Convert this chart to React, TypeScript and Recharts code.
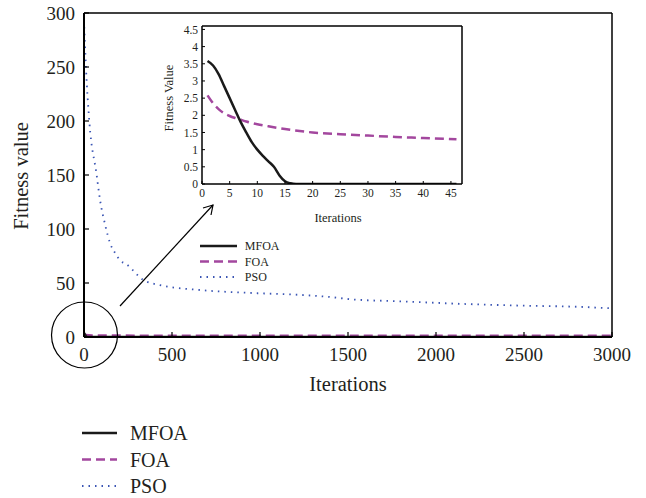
import { LineChart, Line, XAxis, YAxis } from "recharts";

const FONT = '"Liberation Serif", "DejaVu Serif", serif';
const TEXT = "#231f20";

const MAIN_X_TICKS = [0, 500, 1000, 1500, 2000, 2500, 3000];
const MAIN_Y_TICKS = [0, 50, 100, 150, 200, 250, 300];
const INSET_X_TICKS = [0, 5, 10, 15, 20, 25, 30, 35, 40, 45];
const INSET_Y_TICKS = [0, 0.5, 1, 1.5, 2, 2.5, 3, 3.5, 4, 4.5];

// full run (3000 iterations)
const PSO_ITER = [0, 11, 30, 72, 91, 120, 148, 176, 205, 244, 335, 432, 660, 960, 1227, 1400, 1511, 1800, 2176, 2500, 2800, 3000];
const PSO_FIT = [293, 250, 200, 150, 127, 104, 87, 78, 71, 67, 53, 48, 43.5, 40.7, 39, 37, 35, 33, 30.5, 29, 28, 26.5];
const MFOA_FULL_ITER = [0, 5, 10, 16, 3000];
const MFOA_FULL_FIT = [3.6, 2.5, 1, 0, 0];
const FOA_FULL_ITER = [0, 10, 46, 3000];
const FOA_FULL_FIT = [2.6, 1.75, 1.3, 1.1];

// zoomed view (first iterations)
const MFOA_ITER = [1, 2, 3, 4, 5, 6, 7, 8, 9, 10, 11, 12, 13, 14, 15, 16, 17, 20, 25, 30, 35, 40, 46];
const MFOA_FIT = [3.58, 3.45, 3.2, 2.85, 2.5, 2.15, 1.8, 1.5, 1.22, 1.0, 0.82, 0.66, 0.5, 0.25, 0.08, 0.02, 0, 0, 0, 0, 0, 0, 0];
const FOA_ITER = [1, 2, 3, 4, 5, 6, 7, 8, 10, 12, 15, 20, 25, 30, 35, 40, 46];
const FOA_FIT = [2.58, 2.35, 2.18, 2.06, 1.98, 1.92, 1.87, 1.82, 1.74, 1.68, 1.6, 1.5, 1.45, 1.41, 1.37, 1.34, 1.3];

const SERIES = ["MFOA", "FOA", "PSO"];
const COLORS = { MFOA: "#1a1a1a", FOA: "#a3479e", PSO: "#3a55b4" };

const zip = (xs: number[], ys: number[]) => xs.map((x, i) => ({ iter: x, fit: ys[i] }));

const psoData = zip(PSO_ITER, PSO_FIT);
const mfoaFull = zip(MFOA_FULL_ITER, MFOA_FULL_FIT);
const foaFull = zip(FOA_FULL_ITER, FOA_FULL_FIT);
const mfoaInset = zip(MFOA_ITER, MFOA_FIT);
const foaInset = zip(FOA_ITER, FOA_FIT);

const lineStyle = (name: string) => {
  if (name === "MFOA") return { stroke: COLORS.MFOA, strokeWidth: 2.5 };
  if (name === "FOA") return { stroke: COLORS.FOA, strokeWidth: 2.5, strokeDasharray: "9 5" };
  return { stroke: COLORS.PSO, strokeWidth: 1.8, strokeDasharray: "1.5 5" };
};

const LegendRows = ({ x, y, gap, len, size }: { x: number; y: number; gap: number; len: number; size: number }) => (
  <g>
    {SERIES.map((s, i) => (
      <g key={s}>
        <line x1={x} x2={x + len} y1={y + i * gap} y2={y + i * gap} {...lineStyle(s)} />
        <text x={x + len + size * 0.65} y={y + i * gap} dy="0.35em" fontSize={size} fontFamily={FONT} fill={TEXT}>
          {s}
        </text>
      </g>
    ))}
  </g>
);

export default function App() {
  const axisLine = { stroke: "#000", strokeWidth: 2 };
  const tickLine = { stroke: "#000", strokeWidth: 1.2 };
  const mainTick = { fontSize: 19, fill: TEXT, fontFamily: FONT };
  const insetTick = { fontSize: 11.5, fill: TEXT, fontFamily: FONT };
  const insetAxis = { stroke: "#000", strokeWidth: 1.5 };

  return (
    <div style={{ position: "absolute", left: 0, top: 0, width: 646, height: 498, background: "#fff" }}>
      <div style={{ position: "absolute", left: 0, top: 0 }}>
        <LineChart width={646} height={498} margin={{ top: 12, right: 33, bottom: 131, left: 24 }}>
          <XAxis xAxisId="b" type="number" dataKey="iter" domain={[0, 3000]} ticks={MAIN_X_TICKS} allowDataOverflow
            height={30} tickSize={-5} tickMargin={16} tick={mainTick} axisLine={axisLine} tickLine={tickLine} />
          <XAxis xAxisId="t" orientation="top" type="number" dataKey="iter" domain={[0, 3000]} ticks={MAIN_X_TICKS}
            allowDataOverflow height={1} tickSize={-5} tick={false} axisLine={{ stroke: "#000", strokeWidth: 1.5 }} tickLine={tickLine} />
          <YAxis yAxisId="l" type="number" domain={[0, 300]} ticks={MAIN_Y_TICKS} allowDataOverflow
            width={60} tickSize={-5} tickMargin={14} tick={mainTick} axisLine={axisLine} tickLine={tickLine} />
          <YAxis yAxisId="r" orientation="right" type="number" domain={[0, 300]} ticks={MAIN_Y_TICKS} allowDataOverflow
            width={1} tickSize={-5} tick={false} axisLine={{ stroke: "#000", strokeWidth: 1.5 }} tickLine={tickLine} />
          <Line xAxisId="b" yAxisId="l" data={psoData} dataKey="fit" type="monotone" dot={false} isAnimationActive={false} {...lineStyle("PSO")} />
          <Line xAxisId="b" yAxisId="l" data={foaFull} dataKey="fit" type="monotone" dot={false} isAnimationActive={false} {...lineStyle("FOA")} />
          <Line xAxisId="b" yAxisId="l" data={mfoaFull} dataKey="fit" type="monotone" dot={false} isAnimationActive={false} {...lineStyle("MFOA")} />
        </LineChart>
      </div>

      <div style={{ position: "absolute", left: 150, top: 16 }}>
        <LineChart width={330} height={220} margin={{ top: 9, right: 17, bottom: 27, left: 22 }}>
          <XAxis xAxisId="b" type="number" dataKey="iter" domain={[0, 47]} ticks={INSET_X_TICKS} allowDataOverflow
            height={25} tickSize={-3} tickMargin={8} tick={insetTick} axisLine={insetAxis} tickLine={{ stroke: "#000" }} />
          <XAxis xAxisId="t" orientation="top" type="number" dataKey="iter" domain={[0, 47]} ticks={INSET_X_TICKS}
            allowDataOverflow height={1} tickSize={-3} tick={false} axisLine={insetAxis} tickLine={{ stroke: "#000" }} />
          <YAxis yAxisId="l" type="number" domain={[0, 4.6]} ticks={INSET_Y_TICKS} allowDataOverflow
            width={30} tickSize={-3} tickMargin={7} tick={insetTick} axisLine={insetAxis} tickLine={{ stroke: "#000" }} />
          <YAxis yAxisId="r" orientation="right" type="number" domain={[0, 4.6]} ticks={INSET_Y_TICKS} allowDataOverflow
            width={1} tickSize={-3} tick={false} axisLine={insetAxis} tickLine={{ stroke: "#000" }} />
          <Line xAxisId="b" yAxisId="l" data={foaInset} dataKey="fit" type="monotone" dot={false} isAnimationActive={false} {...lineStyle("FOA")} />
          <Line xAxisId="b" yAxisId="l" data={mfoaInset} dataKey="fit" type="monotone" dot={false} isAnimationActive={false} {...lineStyle("MFOA")} />
        </LineChart>
      </div>

      <svg width={646} height={498} style={{ position: "absolute", left: 0, top: 0, pointerEvents: "none" }}>
        <circle cx={84.5} cy={335} r={33} fill="none" stroke="#000" strokeWidth={1.2} />
        <line x1={120} y1={306} x2={213} y2={205} stroke="#000" strokeWidth={1.2} />
        <polyline points="203,208 213,205 211,215" fill="none" stroke="#000" strokeWidth={1.2} />
        <text x={348} y={391} textAnchor="middle" fontSize={20.5} fontFamily={FONT} fill={TEXT}>Iterations</text>
        <text transform="translate(28,176) rotate(-90)" textAnchor="middle" fontSize={20.5} fontFamily={FONT} fill={TEXT}>Fitness value</text>
        <text x={338} y={222} textAnchor="middle" fontSize={12.5} fontFamily={FONT} fill={TEXT}>Iterations</text>
        <text transform="translate(173,98) rotate(-90)" textAnchor="middle" fontSize={12.5} fontFamily={FONT} fill={TEXT}>Fitness Value</text>
        <LegendRows x={200} y={246} gap={15.5} len={37} size={12} />
        <LegendRows x={82} y={433} gap={26.5} len={35} size={20} />
      </svg>
    </div>
  );
}
